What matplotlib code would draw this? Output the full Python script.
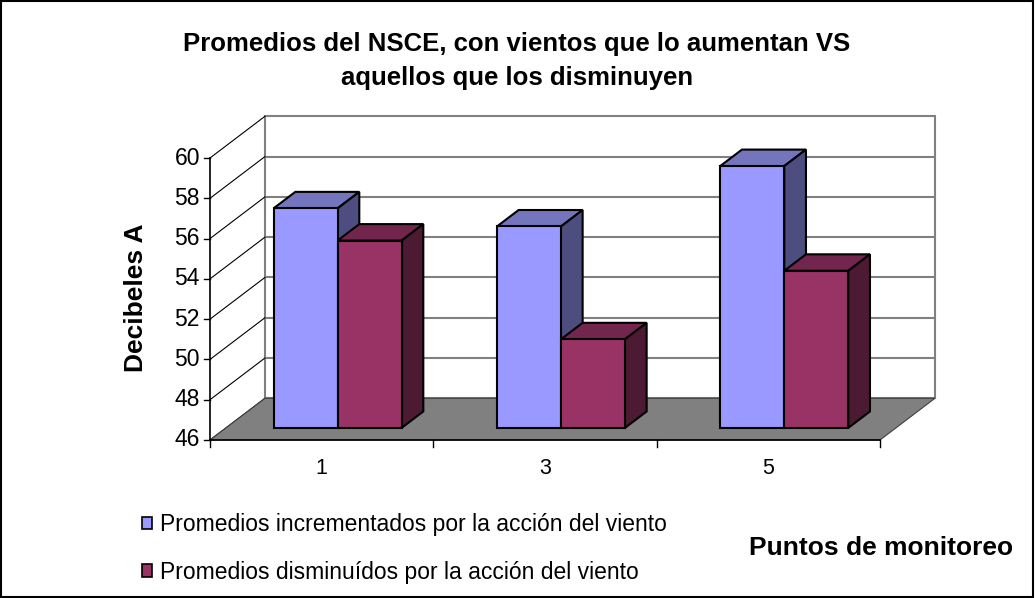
import matplotlib.pyplot as plt
from matplotlib.patches import Polygon, Patch, Rectangle

plt.rcParams['font.family'] = ['Liberation Sans', 'DejaVu Sans']

# --- datos ---
puntos = ['1', '3', '5']
incrementados = [56.9, 56.0, 59.0]
disminuidos = [55.3, 50.4, 53.8]
series = ['Promedios incrementados por la acción del viento',
          'Promedios disminuídos por la acción del viento']
y_ticks = [46, 48, 50, 52, 54, 56, 58, 60]

# colores estilo Excel: frente, tapa, lateral
azul = ('#9999FF', '#7575BD', '#4D4D80')
vino = ('#993366', '#73264D', '#4D1A33')

# desplazamiento de profundidad (en unidades de datos) para el efecto 3D
DX, DY = 0.246, 2.07
Y0, Y1 = y_ticks[0], y_ticks[-1]
N = len(puntos)

W, H = 1035, 598


def p(x, y, d):
    return (x + d * DX, y + d * DY)


def fx(px):
    return px / W


def fy(py):
    return 1 - py / H


fig = plt.figure(figsize=(W / 100, H / 100), dpi=100)
ax = fig.add_axes([0, 0, 1, 1])
ax.set_xlim(-0.9403, 3.694)
ax.set_ylim(38.156, 67.844)
ax.axis('off')

# marco exterior
fig.patches.append(Rectangle((0.001, 0.001), 0.997, 0.997, transform=fig.transFigure,
                             fill=False, ec='black', lw=1.5))

# pared del fondo y cuadricula
ax.add_patch(Polygon([p(0, Y0, 1), p(N, Y0, 1), p(N, Y1, 1), p(0, Y1, 1)],
                     closed=True, fc='white', ec='#808080', lw=1.5, zorder=1))
for v in y_ticks[1:-1]:
    xa, ya = p(0, v, 1)
    xb, yb = p(N, v, 1)
    ax.plot([xa, xb], [ya, yb], color='#808080', lw=1.5, zorder=1.5)

# pared izquierda: lineas diagonales en cada marca
for v in y_ticks:
    xa, ya = p(0, v, 0)
    xb, yb = p(0, v, 1)
    ax.plot([xa, xb], [ya, yb], color='black', lw=0.8, zorder=1.6)

# piso
ax.add_patch(Polygon([p(0, Y0, 0), p(N, Y0, 0), p(N, Y0, 1), p(0, Y0, 1)],
                     closed=True, fc='#808080', ec='#404040', lw=0.8, zorder=2))

# ejes frontales
ax.plot([0, 0], [Y0, Y1], color='black', lw=1.2, zorder=2.5)
ax.plot([0, N], [Y0, Y0], color='black', lw=1.2, zorder=2.5)
for v in y_ticks:
    ax.plot([-0.025, 0], [v, v], color='black', lw=1.0, zorder=2.5)
    ax.text(-0.045, v, str(v), ha='right', va='center', fontsize=16.5)
for i in range(N + 1):
    ax.plot([i, i], [Y0, Y0 - 0.35], color='black', lw=1.0, zorder=2.5)
for i, lab in enumerate(puntos):
    ax.text(i + 0.5, Y0 - 1.4, lab, ha='center', va='center', fontsize=15.5)


def barra(x0, x1, v, colores, d0=0.29, d1=0.685):
    frente, tapa, lado = colores
    kw = dict(closed=True, ec='black', lw=1.5, zorder=3)
    ax.add_patch(Polygon([p(x0, v, d0), p(x1, v, d0), p(x1, v, d1), p(x0, v, d1)], fc=tapa, **kw))
    ax.add_patch(Polygon([p(x1, Y0, d0), p(x1, v, d0), p(x1, v, d1), p(x1, Y0, d1)], fc=lado, **kw))
    ax.add_patch(Polygon([p(x0, Y0, d0), p(x1, Y0, d0), p(x1, v, d0), p(x0, v, d0)], fc=frente, **kw))


w = 0.2866
for i in range(N):
    c = i + 0.5
    barra(c - w, c, incrementados[i], azul)
    barra(c, c + w, disminuidos[i], vino)

# titulos
fig.text(fx(517), fy(44), 'Promedios del NSCE, con vientos que lo aumentan VS',
         ha='center', va='center', fontsize=18.5, fontweight='bold')
fig.text(fx(517), fy(78), 'aquellos que los disminuyen',
         ha='center', va='center', fontsize=18.5, fontweight='bold')
fig.text(fx(136), fy(298), 'Decibeles A', rotation=90, ha='center', va='center',
         fontsize=19, fontweight='bold')
fig.text(fx(881), fy(548), 'Puntos de monitoreo', ha='center', va='center',
         fontsize=19, fontweight='bold')

# leyenda
handles = [Patch(fc=azul[0], ec='black', lw=1.2), Patch(fc=vino[0], ec='black', lw=1.2)]
fig.legend(handles, series, loc='center left', bbox_to_anchor=(fx(142), fy(548.5)),
           frameon=False, fontsize=16.5, handlelength=0.45, handleheight=0.45,
           handletextpad=0.35, labelspacing=1.06, borderpad=0, borderaxespad=0)

fig.savefig('out.png', dpi=100)
